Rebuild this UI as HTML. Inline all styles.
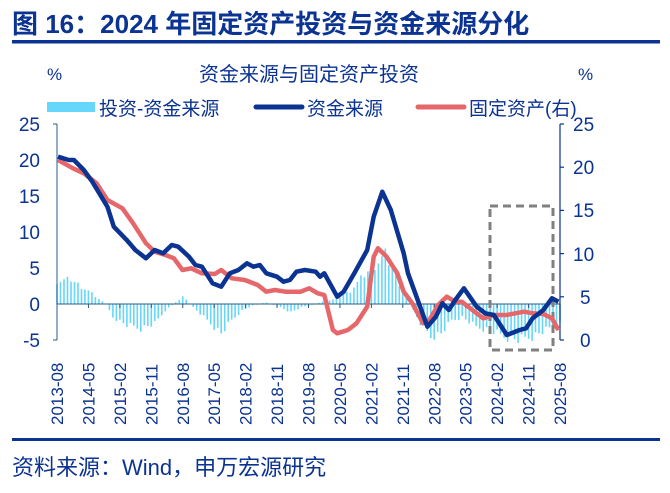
<!DOCTYPE html>
<html><head><meta charset="utf-8"><style>
html,body{margin:0;padding:0;background:#fff;width:670px;height:493px;overflow:hidden}
body{font-family:"Liberation Sans","Noto Sans CJK SC",sans-serif}
</style></head><body>
<svg id="s" width="670" height="493" viewBox="0 0 670 493" xmlns="http://www.w3.org/2000/svg" font-family="Liberation Sans, Noto Sans CJK SC, sans-serif">
<text x="12" y="33" font-size="26" font-weight="bold" fill="#0b3391" font-family="Liberation Sans, Noto Sans CJK SC, sans-serif">图 16：2024 年固定资产投资与资金来源分化</text>
<rect x="12" y="40" width="648" height="3.5" fill="#0b3391"/>
<text x="47" y="80" font-size="17" fill="#0b3391">%</text>
<text x="578" y="80" font-size="17" fill="#0b3391">%</text>
<text x="309" y="81" font-size="20" fill="#0b3391" text-anchor="middle">资金来源与固定资产投资</text>
<rect x="47" y="102" width="48" height="10" fill="#66d6fa"/>
<text x="99" y="115" font-size="19" fill="#0b3391">投资-资金来源</text>
<line x1="256" y1="107" x2="302" y2="107" stroke="#0b3391" stroke-width="5" stroke-linecap="round"/>
<text x="307" y="115" font-size="19" fill="#0b3391">资金来源</text>
<line x1="418" y1="107" x2="464" y2="107" stroke="#e5676a" stroke-width="5" stroke-linecap="round"/>
<text x="469" y="115" font-size="19" fill="#0b3391">固定资产(右)</text>
<g font-size="19" fill="#0b3391" text-anchor="end">
<text x="40" y="131">25</text><text x="40" y="167">20</text><text x="40" y="203">15</text><text x="40" y="239">10</text><text x="40" y="275">5</text><text x="40" y="311">0</text><text x="40" y="347">-5</text>
</g>
<g font-size="19" fill="#0b3391">
<text x="573" y="131">25</text><text x="573" y="174">20</text><text x="573" y="217">15</text><text x="573" y="261">10</text><text x="580" y="304">5</text><text x="580" y="347">0</text>
</g>
<g id="bars" fill="#66d6fa"></g>
<line x1="57" y1="124" x2="57" y2="340" stroke="#2a5a8a" stroke-width="1"/>
<g stroke="#2a5a8a" stroke-width="1"><line x1="53" y1="124" x2="57" y2="124"/><line x1="53" y1="340" x2="57" y2="340"/></g>
<line x1="57" y1="304" x2="560" y2="304" stroke="#2a5a8a" stroke-width="1"/>
<g id="xt" stroke="#2a5a8a" stroke-width="1"></g>
<line x1="560" y1="124" x2="560" y2="340" stroke="#0b3391" stroke-width="1.2"/>
<g id="rt" stroke="#0b3391" stroke-width="1.2"></g>
<rect x="490" y="206" width="63" height="144" fill="none" stroke="#808080" stroke-width="3" stroke-dasharray="8,5"/>
<path id="red" fill="none" stroke="#e5676a" stroke-width="4.5" stroke-linejoin="round"/>
<path id="blue" fill="none" stroke="#0b3391" stroke-width="4.5" stroke-linejoin="round"/>
<g id="xl" font-size="17" fill="#0b3391"></g>
<rect x="12" y="438" width="648" height="3" fill="#0b3391"/>
<text x="12" y="475" font-size="22" fill="#0b3391">资料来源：Wind，申万宏源研究</text>
</svg>
<script>
var NS="http://www.w3.org/2000/svg";
function P(a){return a.map(function(p,i){return (i?"L":"M")+(p[0]*0.4295).toFixed(1)+","+(110+p[1]/3).toFixed(1)}).join(" ")}
var blue=[[135,140],[160,150],[172,150],[195,180],[215,215],[250,290],[265,350],[295,390],[315,420],[340,445],[360,420],[380,430],[400,405],[415,410],[440,440],[455,465],[470,470],[495,520],[515,530],[535,490],[555,480],[575,460],[590,470],[605,465],[620,490],[645,500],[660,515],[675,510],[690,485],[710,480],[735,485],[745,500],[755,490],[785,560],[800,545],[825,490],[855,420],[870,320],[890,245],[910,300],[940,430],[950,490],[995,650],[1015,620],[1030,580],[1045,600],[1060,570],[1080,535],[1110,590],[1130,610],[1150,615],[1180,675],[1210,660],[1225,655],[1240,625],[1265,600],[1285,565],[1300,575]];
var red=[[135,150],[170,175],[195,190],[225,220],[250,270],[285,295],[310,340],[340,400],[360,425],[385,435],[405,445],[425,480],[445,475],[470,490],[500,492],[515,480],[540,505],[570,510],[600,525],[620,545],[640,540],[665,545],[700,545],[720,535],[740,550],[755,555],[775,660],[785,670],[810,660],[830,640],[845,610],[855,590],[870,440],[880,415],[900,440],[925,490],[940,545],[960,580],[985,640],[1000,630],[1020,585],[1040,560],[1060,575],[1075,575],[1100,600],[1125,625],[1150,615],[1180,615],[1220,605],[1240,610],[1265,612],[1285,625],[1300,660]];
document.getElementById("blue").setAttribute("d",P(blue));
document.getElementById("red").setAttribute("d",P(red));
var bk=[[0,70],[4,75],[6,60],[9,40],[12,15],[14,0],[16,-40],[20,-65],[24,-75],[28,-60],[31,-20],[34,5],[36,25],[38,0],[41,-30],[44,-60],[47,-90],[50,-50],[53,-20],[56,-5],[60,5],[64,-10],[67,-25],[70,-10],[74,0],[77,10],[80,15],[84,40],[88,90],[92,130],[94,150],[96,110],[99,40],[101,0],[104,-60],[107,-100],[110,-90],[113,-50],[116,-40],[120,-70],[124,-80],[128,-100],[132,-110],[136,-100],[140,-80],[144,-60]];
function iv(m){for(var i=0;i<bk.length-1;i++){if(m>=bk[i][0]&&m<=bk[i+1][0]){var t=(m-bk[i][0])/(bk[i+1][0]-bk[i][0]);return bk[i][1]+t*(bk[i+1][1]-bk[i][1]);}}return 0}
var g=document.getElementById("bars");
for(var m=0;m<=144;m++){var v=iv(m)/3*(0.85+0.3*((m*37)%7)/7);var x=57+m*503/144;var r=document.createElementNS(NS,"rect");r.setAttribute("x",(x-0.8).toFixed(1));r.setAttribute("width","1.6");r.setAttribute("y",(v>0?304-v:304).toFixed(1));r.setAttribute("height",Math.abs(v).toFixed(1));g.appendChild(r);}
var labs=["2013-08","2014-05","2015-02","2015-11","2016-08","2017-05","2018-02","2018-11","2019-08","2020-05","2021-02","2021-11","2022-08","2023-05","2024-02","2024-11","2025-08"];
var xl=document.getElementById("xl"),xt=document.getElementById("xt");
labs.forEach(function(l,i){var x=57+i*9*503/144;var t=document.createElementNS(NS,"text");t.setAttribute("transform","translate("+(x+6)+",425) rotate(-90)");t.textContent=l;xl.appendChild(t);
var ln=document.createElementNS(NS,"line");ln.setAttribute("x1",x);ln.setAttribute("x2",x);ln.setAttribute("y1",304);ln.setAttribute("y2",308);xt.appendChild(ln);});
var rt=document.getElementById("rt");
for(var k=0;k<=5;k++){var y=340-k*43.2;var ln=document.createElementNS(NS,"line");ln.setAttribute("x1",560);ln.setAttribute("x2",564);ln.setAttribute("y1",y);ln.setAttribute("y2",y);rt.appendChild(ln);}
</script>
</body></html>
